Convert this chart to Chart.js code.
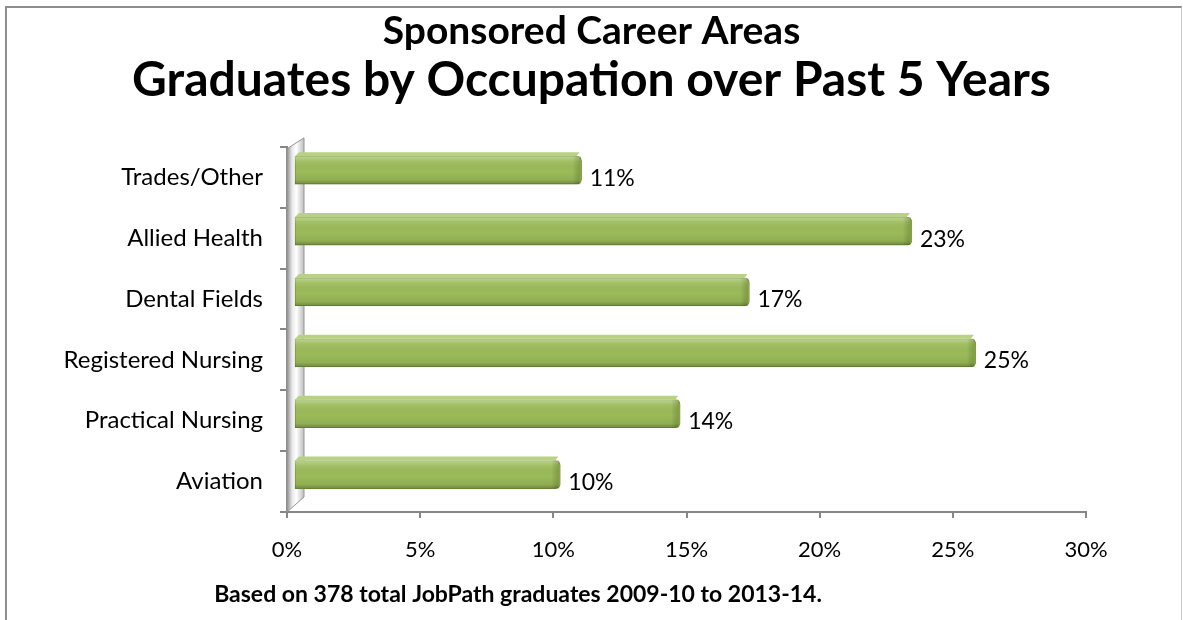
<!DOCTYPE html>
<html><head><meta charset="utf-8">
<script src="https://cdn.jsdelivr.net/npm/chart.js@4"></script>
<style>
html,body{margin:0;padding:0;background:#fff;overflow:hidden}
#wrap{position:relative;width:1183px;height:620px}
#frame{position:absolute;left:5px;top:6px;width:1174px;height:700px;border-left:2px solid #8e8e8e;border-top:2px solid #8e8e8e;border-right:1px solid #c8c8c8;pointer-events:none}
canvas{position:absolute;left:0;top:0}
</style></head>
<body><div id="wrap"><canvas id="c" width="1183" height="620"></canvas><div id="frame"></div></div>
<script>
const categories = ['Trades/Other','Allied Health','Dental Fields','Registered Nursing','Practical Nursing','Aviation'];
const values = [10.8, 23.2, 17.1, 25.6, 14.5, 10.0];
const shownPercents = [11, 23, 17, 25, 14, 10];
const xTicks = [0, 5, 10, 15, 20, 25, 30];
const titleLine1 = 'Sponsored Career Areas';
const titleLine2 = 'Graduates by Occupation over Past 5 Years';
const footnote = 'Based on 378 total JobPath graduates 2009-10 to 2013-14.';

const FONT = 'Lato, Carlito, Calibri, "Open Sans", sans-serif';
Chart.defaults.font.family = FONT;
Chart.defaults.color = '#000';
const DEPTH = 7;

const threeD = {
  id: 'threeD',
  afterLayout(chart) {
    chart.scales.y.left = 0;
  },
  beforeDatasetsDraw(chart) {
    const ctx = chart.ctx, a = chart.chartArea;
    const L = a.left, T = a.top, B = a.bottom, W = 17;
    ctx.save();
    const g = ctx.createLinearGradient(L, 0, L + W, 0);
    g.addColorStop(0, '#8f8f8f');
    g.addColorStop(0.3, '#e8e8e8');
    g.addColorStop(0.55, '#ffffff');
    g.addColorStop(1, '#bdbdbd');
    ctx.beginPath();
    ctx.moveTo(L, T + 2);
    ctx.lineTo(L + W, T - 9);
    ctx.lineTo(L + W, B - 15);
    ctx.lineTo(L, B);
    ctx.closePath();
    ctx.fillStyle = g;
    ctx.fill();
    ctx.strokeStyle = '#969696';
    ctx.lineWidth = 1;
    ctx.stroke();
    ctx.restore();
    ctx.save();
    ctx.translate(DEPTH, -DEPTH);
  },
  afterDatasetsDraw(chart) {
    const ctx = chart.ctx;
    const meta = chart.getDatasetMeta(0);
    meta.data.forEach(el => {
      const h = el.height, top = el.y - h / 2;
      const x0 = el.base, x1 = el.x;
      ctx.beginPath();
      ctx.moveTo(x0, top);
      ctx.lineTo(x0 + 4, top - 4);
      ctx.lineTo(x1 - 2, top - 4);
      ctx.lineTo(x1 - 5, top);
      ctx.closePath();
      ctx.fillStyle = '#b9d183';
      ctx.fill();
      const g = ctx.createLinearGradient(0, top, 0, top + h);
      g.addColorStop(0, 'rgba(255,255,255,0.35)');
      g.addColorStop(0.18, 'rgba(255,255,255,0.08)');
      g.addColorStop(0.55, 'rgba(0,0,0,0)');
      g.addColorStop(0.85, 'rgba(0,0,0,0.07)');
      g.addColorStop(1, 'rgba(0,0,0,0.28)');
      ctx.fillStyle = g;
      ctx.fillRect(x0, top, x1 - x0 - 2, h);
      const g2 = ctx.createLinearGradient(x1 - 9, 0, x1, 0);
      g2.addColorStop(0, 'rgba(0,0,0,0)');
      g2.addColorStop(1, 'rgba(40,60,0,0.25)');
      ctx.fillStyle = g2;
      ctx.fillRect(x1 - 9, top, 8, h);
    });
    ctx.restore();
    ctx.save();
    ctx.font = '23px ' + FONT;
    ctx.fillStyle = '#000';
    ctx.textBaseline = 'middle';
    ctx.textAlign = 'left';
    meta.data.forEach((el, i) => {
      ctx.fillText(shownPercents[i] + '%', el.x + DEPTH + 8, el.y + 1);
    });
    ctx.restore();
  },
  afterDraw(chart) {
    const ctx = chart.ctx;
    ctx.save();
    ctx.font = 'bold 23px ' + FONT;
    ctx.fillStyle = '#000';
    ctx.textBaseline = 'middle';
    ctx.textAlign = 'center';
    ctx.fillText(footnote, 518, 595);
    ctx.restore();
  }
};

new Chart(document.getElementById('c'), {
  type: 'bar',
  data: {
    labels: categories,
    datasets: [{
      data: values,
      backgroundColor: '#9bbb59',
      borderColor: '#7a9a3c',
      borderWidth: 1,
      borderSkipped: false,
      borderRadius: {topLeft: 0, bottomLeft: 0, topRight: 5, bottomRight: 5},
      barThickness: 28
    }]
  },
  options: {
    responsive: false,
    animation: false,
    indexAxis: 'y',
    layout: {padding: {left: 97, right: 97, top: 0, bottom: 0}},
    plugins: {
      legend: {display: false},
      tooltip: {enabled: false},
      title: {
        display: true,
        text: titleLine1,
        color: '#000',
        font: {size: 39, weight: 'bold', family: FONT, lineHeight: 1.2},
        padding: {top: 8, bottom: 0}
      },
      subtitle: {
        display: true,
        text: titleLine2,
        color: '#000',
        font: {size: 48, weight: 'bold', family: FONT, lineHeight: 1.0},
        padding: {top: 2, bottom: 42}
      }
    },
    scales: {
      x: {
        min: 0, max: 30,
        afterBuildTicks(s) { s.ticks = xTicks.map(v => ({value: v})); },
        ticks: {callback: v => v + '%', font: {size: 22}, color: '#000', padding: 19, maxRotation: 0},
        grid: {drawOnChartArea: false, drawTicks: true, tickLength: 6, color: '#868686', lineWidth: 2},
        border: {display: true, color: '#868686', width: 2},
        afterFit(s) { s.height = 108; }
      },
      y: {
        ticks: {font: {size: 24}, color: '#000', padding: 17},
        grid: {drawOnChartArea: false, drawTicks: true, tickLength: 7, color: '#868686', lineWidth: 2, offset: true},
        border: {display: true, color: '#868686', width: 2},
        afterFit(s) { s.width = 190; }
      }
    }
  },
  plugins: [threeD]
});
</script>
</body></html>
